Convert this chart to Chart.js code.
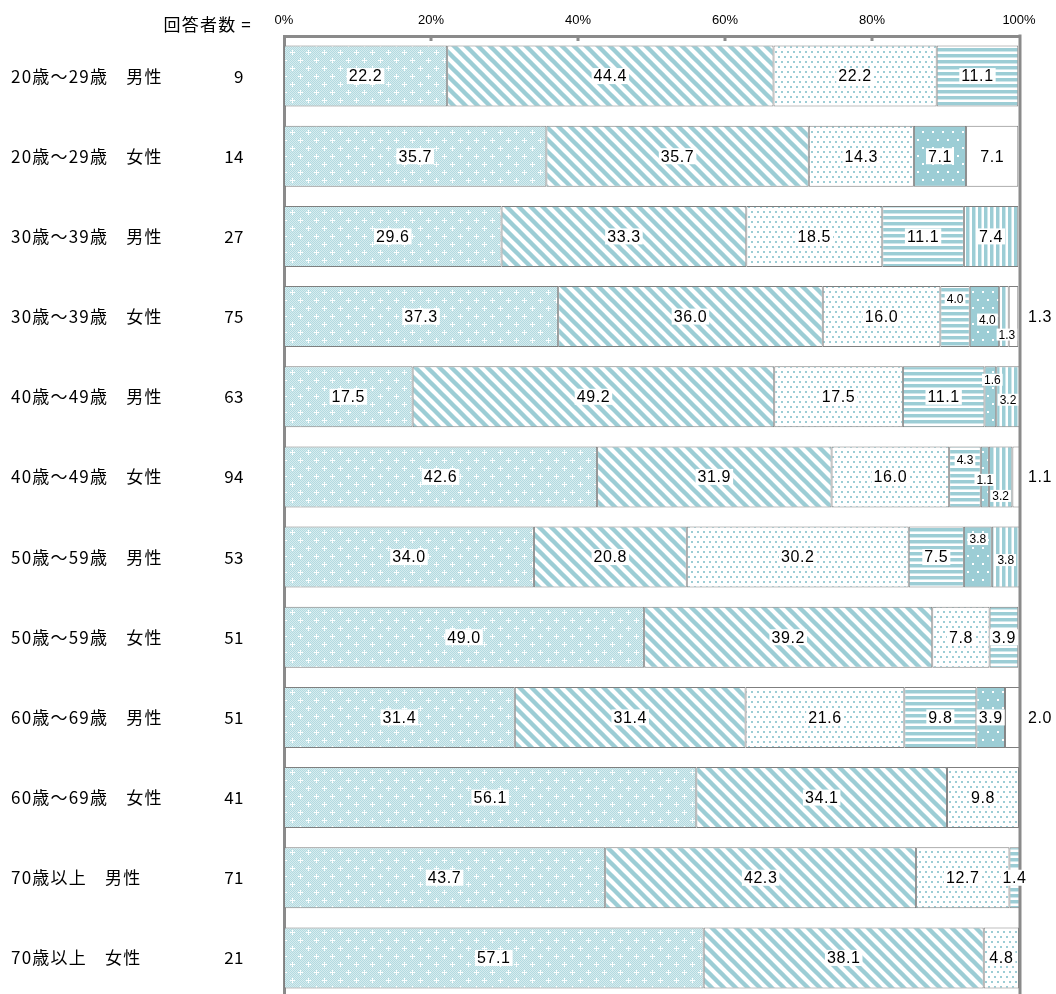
<!DOCTYPE html>
<html>
<head>
<meta charset="utf-8">
<script src="https://cdn.jsdelivr.net/npm/chart.js@4"></script>
<style>
  html, body { margin: 0; padding: 0; background: #fff; overflow: hidden; }
  #wrap { position: relative; width: 1056px; height: 1000px; }
</style>
</head>
<body>
<div id="wrap"><canvas id="chart"></canvas></div>
<script>
// 区分（上 → 下）
const categories = [
  '20歳～29歳　男性', '20歳～29歳　女性',
  '30歳～39歳　男性', '30歳～39歳　女性',
  '40歳～49歳　男性', '40歳～49歳　女性',
  '50歳～59歳　男性', '50歳～59歳　女性',
  '60歳～69歳　男性', '60歳～69歳　女性',
  '70歳以上　男性', '70歳以上　女性'
];
const counts = [9, 14, 27, 75, 63, 94, 53, 51, 51, 41, 71, 21];

// 選択肢ごとの割合 (%)
const series1 = [22.2, 35.7, 29.6, 37.3, 17.5, 42.6, 34.0, 49.0, 31.4, 56.1, 43.7, 57.1];
const series2 = [44.4, 35.7, 33.3, 36.0, 49.2, 31.9, 20.8, 39.2, 31.4, 34.1, 42.3, 38.1];
const series3 = [22.2, 14.3, 18.5, 16.0, 17.5, 16.0, 30.2, 7.8, 21.6, 9.8, 12.7, 4.8];
const series4 = [11.1, 0, 11.1, 4.0, 11.1, 4.3, 7.5, 3.9, 9.8, 0, 1.4, 0];
const series5 = [0, 7.1, 0, 4.0, 1.6, 1.1, 3.8, 0, 3.9, 0, 0, 0];
const series6 = [0, 0, 7.4, 1.3, 3.2, 3.2, 3.8, 0, 0, 0, 0, 0];
const series7 = [0, 7.1, 0, 1.3, 0, 1.1, 0, 0, 2.0, 0, 0, 0];

const xTicks = [0, 20, 40, 60, 80, 100];

const TEAL = '#9ccdd5';
const AXIS = '#8a8a8a';

// ------------------ 模様 ------------------
function makePattern(w, h, draw) {
  const c = document.createElement('canvas');
  c.width = w; c.height = h;
  const g = c.getContext('2d');
  draw(g, w, h);
  return g.createPattern(c, 'repeat');
}

const patCross = makePattern(16, 16, (g) => {
  g.fillStyle = '#d6ecef'; g.fillRect(0, 0, 16, 16);
  g.fillStyle = '#b3dae0';
  for (let y = 0; y < 16; y++) for (let x = (y % 2); x < 16; x += 2) g.fillRect(x, y, 1, 1);
  g.fillStyle = '#ffffff';
  [[4, 4], [12, 12]].forEach(([x, y]) => {
    g.fillRect(x - 2, y, 5, 1);
    g.fillRect(x, y - 2, 1, 5);
  });
});

const patDiag = makePattern(12, 12, (g) => {
  g.fillStyle = '#ffffff'; g.fillRect(0, 0, 12, 12);
  g.strokeStyle = TEAL; g.lineWidth = 4.4;
  for (let k = -12; k <= 12; k += 12) {
    g.beginPath(); g.moveTo(k - 2, -2); g.lineTo(k + 14, 14); g.stroke();
  }
});

const patDots = makePattern(6, 10, (g) => {
  g.fillStyle = '#ffffff'; g.fillRect(0, 0, 6, 10);
  g.fillStyle = TEAL;
  g.fillRect(1, 1, 2, 2);
  g.fillRect(4, 6, 2, 2);
});

const patHoriz = makePattern(1, 6, (g) => {
  g.fillStyle = '#ffffff'; g.fillRect(0, 0, 1, 6);
  g.fillStyle = TEAL; g.fillRect(0, 0, 1, 3);
  g.fillStyle = '#cfe7eb'; g.fillRect(0, 3, 1, 1);
});

const patBlueDots = makePattern(10, 16, (g) => {
  g.fillStyle = TEAL; g.fillRect(0, 0, 10, 16);
  g.fillStyle = '#ffffff';
  g.fillRect(2, 3, 2, 2);
  g.fillRect(7, 11, 2, 2);
});

const patVert = makePattern(6, 1, (g) => {
  g.fillStyle = '#ffffff'; g.fillRect(0, 0, 6, 1);
  g.fillStyle = TEAL; g.fillRect(0, 0, 3, 1);
  g.fillStyle = '#cfe7eb'; g.fillRect(3, 0, 1, 1);
});

const allSeries = [series1, series2, series3, series4, series5, series6, series7];
const fills = [patCross, patDiag, patDots, patHoriz, patBlueDots, patVert, '#ffffff'];

// 小さい値のラベル位置調整 (系列-行)
const labelTweaks = {
  '3-3': { dy: -18, small: true },
  '4-3': { dy: 3, dx: 3, small: true },
  '5-3': { dy: 18, dx: 3, small: true },
  '6-3': { outside: true },
  '4-4': { dy: -17, dx: 2, small: true },
  '5-4': { dy: 3, small: true },
  '3-5': { dy: -17, small: true },
  '4-5': { dy: 3, small: true },
  '5-5': { dy: 19, small: true },
  '6-5': { outside: true },
  '4-6': { dy: -18, small: true },
  '5-6': { dy: 3, small: true },
  '6-8': { outside: true },
};

const decorPlugin = {
  id: 'decor',
  afterDraw(chart) {
    const { ctx, chartArea, scales } = chart;
    const ys = scales.y, xs = scales.x;
    ctx.save();

    // 右枠と目盛り
    ctx.strokeStyle = AXIS;
    ctx.lineWidth = 3;
    ctx.beginPath();
    ctx.moveTo(chartArea.right + 1, chartArea.top - 1.5);
    ctx.lineTo(chartArea.right + 1, chartArea.bottom);
    ctx.stroke();
    xTicks.slice(1, -1).forEach((v) => {
      const x = xs.getPixelForValue(v);
      ctx.beginPath();
      ctx.moveTo(x, chartArea.top);
      ctx.lineTo(x, chartArea.top + 5);
      ctx.stroke();
    });

    // 区分ラベルと回答者数
    ctx.fillStyle = '#000';
    ctx.textBaseline = 'middle';
    ctx.font = '17px "Noto Sans CJK JP"';
    ctx.letterSpacing = '1.2px';
    ctx.textAlign = 'right';
    ctx.fillText('回答者数 =', 252, 25);
    categories.forEach((name, i) => {
      const y = ys.getPixelForValue(i);
      ctx.textAlign = 'left';
      ctx.letterSpacing = '1.2px';
      ctx.fillText(name, 11, y);
      ctx.textAlign = 'right';
      ctx.letterSpacing = '0.5px';
      ctx.fillText(String(counts[i]), 244, y);
    });

    // 数値ラベル
    ctx.textAlign = 'center';
    chart.data.datasets.forEach((ds, si) => {
      chart.getDatasetMeta(si).data.forEach((bar, ri) => {
        const v = ds.data[ri];
        if (v == null) return;
        const tw = labelTweaks[si + '-' + ri] || {};
        const txt = v.toFixed(1);
        const size = tw.small ? 12 : 16;
        ctx.font = size + 'px "Liberation Sans"';
        ctx.letterSpacing = tw.small ? '0px' : '0.6px';
        let { x, y } = bar.getCenterPoint();
        if (tw.outside) {
          x = chartArea.right + 21;
        } else {
          x += tw.dx || 0;
          y += tw.dy || 0;
          const w = ctx.measureText(txt).width;
          ctx.fillStyle = '#fff';
          ctx.fillRect(x - w / 2 - 2, y - size / 2, w + 4, size);
        }
        ctx.fillStyle = '#000';
        ctx.fillText(txt, x, y + 1);
      });
    });
    ctx.restore();
  }
};

new Chart(document.getElementById('chart'), {
  type: 'bar',
  data: {
    labels: categories,
    datasets: allSeries.map((s, i) => ({
      label: '選択肢' + (i + 1),
      data: s.map((v) => (v > 0 ? v : null)),
      backgroundColor: fills[i],
      borderColor: '#7f7f7f',
      borderWidth: 1,
      borderSkipped: false,
      barPercentage: 0.76,
      categoryPercentage: 1,
    })),
  },
  options: {
    indexAxis: 'y',
    responsive: true,
    maintainAspectRatio: false,
    animation: false,
    layout: { padding: { top: 8, right: 37, bottom: 2, left: 0 } },
    plugins: {
      legend: { display: false },
      tooltip: { enabled: false },
    },
    scales: {
      x: {
        position: 'top',
        stacked: true,
        min: 0,
        max: 100,
        afterBuildTicks: (s) => { s.ticks = xTicks.map((v) => ({ value: v })); },
        ticks: {
          callback: (v) => v + '%',
          color: '#000',
          font: { family: 'Liberation Sans', size: 13 },
          padding: 8,
        },
        grid: { display: false, drawTicks: false },
        border: { display: true, color: AXIS, width: 3 },
        afterFit: (s) => { s.height = 28; },
      },
      y: {
        stacked: true,
        ticks: { display: false },
        grid: { display: false, drawTicks: false },
        border: { display: true, color: AXIS, width: 3 },
        afterFit: (s) => { s.width = 284; },
      },
    },
  },
  plugins: [decorPlugin],
});
</script>
</body>
</html>
